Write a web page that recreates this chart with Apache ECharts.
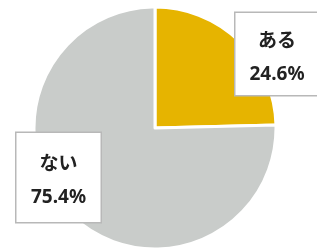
<!DOCTYPE html>
<html><head><meta charset="utf-8">
<script src="https://cdn.jsdelivr.net/npm/echarts@6/dist/echarts.min.js"></script>
<style>html,body{margin:0;padding:0;background:#fff}#c{width:317px;height:251px}</style>
</head><body><div id="c"></div>
<script>
const categories = ['ある', 'ない'];
const values = [24.6, 75.4];
const colors = ['#E6B400', '#C9CCCA'];

const chart = echarts.init(document.getElementById('c'), null, {renderer: 'canvas'});
const boxes = [
  {x: 277, y: 54, w: 86, pad: [9.5, 0, 2.5, 0]},
  {x: 58.5, y: 177.5, w: 87, pad: [12.5, 0, 6.5, 0]}
];
chart.setOption({
  animation: false,
  backgroundColor: '#fff',
  series: [{
    type: 'pie',
    center: [155, 128],
    radius: 121,
    startAngle: 90,
    clockwise: true,
    silent: true,
    itemStyle: {borderColor: '#fff', borderWidth: 3},
    labelLine: {show: false},
    label: {
      show: true,
      position: 'outside',
      formatter: p => '{n|' + p.name + '}\n{v|' + p.value.toFixed(1) + '%}',
      backgroundColor: '#fff',
      borderColor: '#b8b8b8',
      borderWidth: 1.5,
      align: 'center',
      verticalAlign: 'middle',
      rich: {
        n: {fontFamily: '"Noto Sans CJK JP"', fontWeight: 'bold', fontSize: 19, color: '#222', lineHeight: 35, align: 'center'},
        v: {fontFamily: '"Noto Sans"', fontWeight: 'bold', fontSize: 19, color: '#222', lineHeight: 35, align: 'center'}
      }
    },
    labelLayout: function (params) {
      const b = boxes[params.dataIndex];
      return {x: b.x, y: b.y, align: 'center', verticalAlign: 'middle'};
    },
    data: categories.map((c, i) => ({
      name: c,
      value: values[i],
      itemStyle: {color: colors[i]},
      label: {width: boxes[i].w - 3, padding: boxes[i].pad}
    }))
  }]
});
</script></body></html>
